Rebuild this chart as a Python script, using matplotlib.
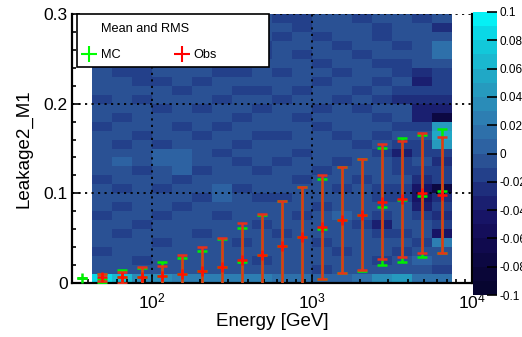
import numpy as np
import matplotlib
matplotlib.use("Agg")
import matplotlib.pyplot as plt
from matplotlib.colors import ListedColormap, BoundaryNorm
from matplotlib.patches import Rectangle
from matplotlib.lines import Line2D
from matplotlib.ticker import FixedLocator, LogLocator, NullFormatter

plt.rcParams["font.family"] = ["Liberation Sans", "DejaVu Sans"]

# log10(E) binning: 20 bins of 0.125 from 10^1.5 to 10^4
LOG_EDGES = np.arange(1.5, 4.0001, 0.125)
Y_EDGES = np.arange(0.0, 0.3001, 0.01)

# heatmap (MC - Obs), in units of 0.01 (level index), rows from y=0 upward,
# columns = energy bins 1..18 (bin 0 and 19 are empty)
LEVELS = [
    [8, 6, 3, 3, 2, 2, 2, 2, 2, 1, 1, 0, 0, 1, 3, 4, 1, 1],
    [-1, -1, -1, -1, -1, -1, -1, -1, -1, -1, -1, -2, -1, -1, -1, -1, -1, -2],
    [-1, -1, -2, -1, -1, -1, -1, -1, -2, -1, -1, -1, -1, -1, -2, -1, 0, -1],
    [-2, -1, -1, -1, -1, -1, -1, -1, -1, -1, -1, -1, -2, -1, -1, -2, -1, -1],
    [-1, -1, -1, -2, -1, -1, -1, -2, -1, -1, -1, -2, -1, -1, -1, -1, -2, 2],
    [-1, -2, -1, -1, -1, -2, -1, -1, -1, -2, -1, -1, -1, -1, -2, -2, -1, -5],
    [-1, -1, -2, -1, -1, -1, -1, -1, -2, -1, -1, -1, -1, -2, -4, -1, -1, -2],
    [-2, -1, -1, -2, -1, -1, -2, -1, -1, -1, -2, -1, 0, -1, -2, -1, -2, -3],
    [-1, -2, -1, -1, -2, -1, -1, -1, -1, -1, -1, -2, -1, -1, -1, -1, -4, -2],
    [-1, -1, -1, -1, -1, -2, 0, -1, -2, -2, -1, -1, -1, -1, -2, -2, -5, -3],
    [-1, -2, -1, -2, -1, -1, 0, -2, -1, -1, -1, -1, -2, -1, -2, -2, -5, -8],
    [-2, -1, -1, -1, -2, -1, -1, -1, -1, -1, -2, -1, -1, -2, -1, -1, -3, -2],
    [-1, -1, -2, -1, 0, -2, -1, -1, -2, -1, -1, -2, -1, -1, -1, -2, -2, -2],
    [-1, 0, -1, 0, 0, -1, -1, -2, -1, -2, -1, -1, -2, -1, -1, -2, -1, -3],
    [-1, -1, -1, 0, 0, -1, -2, -1, -1, -1, -2, -1, -1, -1, -2, -4, -2, -2],
    [-1, -2, -1, -2, -1, -1, -1, -2, -1, -1, -1, -1, -1, -2, -1, -2, -2, 4],
    [-1, -1, -2, -1, -1, -2, -1, -1, -2, -2, -1, -1, -2, -1, -2, -1, -1, 5],
    [-2, -1, -1, -1, -2, -1, -2, -1, -1, -1, -1, -2, -1, -1, -1, -2, -2, 4],
    [-1, -2, -1, -1, -1, -1, -1, -2, -1, -1, -2, -1, -1, -1, -2, -1, -4, -8],
    [-1, -1, -1, -2, -1, -2, -1, -1, -2, -1, -1, -2, -1, -2, -1, -1, -4, -4],
    [-2, -1, -2, -1, -1, -1, -2, -1, -1, -2, -1, -1, -2, -1, -2, -3, -3, -3],
    [-1, -1, -1, -1, -2, -1, -1, -2, -2, -1, -2, -1, -1, -2, -1, -2, -2, -2],
    [-1, -1, -2, -2, -1, -2, -1, -1, -1, -1, -1, -2, -1, -1, -2, -1, -4, -2],
    [-1, -2, -2, -1, -1, -1, -2, -2, -1, -2, -1, -1, -2, -1, -1, -2, -3, -2],
    [-2, -1, -1, -2, -1, -1, -2, -1, -1, -1, -1, -2, -1, -1, -2, -2, -1, -1],
    [-1, -2, -1, -1, -2, -1, -1, -1, -2, -1, -2, -1, -1, -2, -1, -1, -1, 1],
    [-1, -1, -2, -1, -1, -2, -1, -1, -2, -1, -1, -1, -2, -1, -1, -2, -1, 1],
    [-2, -1, -1, -2, -1, -1, -2, -1, -1, -2, -1, -2, -1, -1, -2, -1, -1, -1],
    [-1, -2, -1, -1, -2, -1, -1, -2, -1, -1, -2, -1, -1, -1, -2, -1, -1, -3],
    [-1, -1, -2, -1, -1, -2, -1, -1, -1, -2, -2, -1, -1, -2, -1, -1, -2, -1],
]

# profile: mean and RMS per energy bin (bins 0..18)
MC_MEAN = [0.0052, 0.005, 0.0065, 0.007, 0.0082, 0.010, 0.013, 0.0175, 0.023, 0.031,
           0.041, 0.0517, 0.0602, 0.070, 0.076, 0.085, 0.0926, 0.097, 0.1026]
MC_RMS = [0.0, 0.0047, 0.0085, 0.0095, 0.0148, 0.0184, 0.0228, 0.0315, 0.0385, 0.0448,
          0.050, 0.055, 0.0555, 0.059, 0.0625, 0.065, 0.0688, 0.0685, 0.069]
OBS_MEAN = [np.nan, 0.0063, 0.0063, 0.0071, 0.0082, 0.010, 0.013, 0.0175, 0.026, 0.031,
            0.041, 0.0517, 0.063, 0.070, 0.076, 0.0907, 0.0937, 0.100, 0.0985]
OBS_RMS = [np.nan, 0.0037, 0.006, 0.011, 0.0113, 0.0212, 0.027, 0.0325, 0.041, 0.046,
           0.050, 0.055, 0.058, 0.059, 0.062, 0.064, 0.065, 0.067, 0.0645]

CBAR_TICKS = [-0.1, -0.08, -0.06, -0.04, -0.02, 0, 0.02, 0.04, 0.06, 0.08, 0.1]
CBAR_LABELS = ["-0.1", "-0.08", "-0.06", "-0.04", "-0.02", "0",
               "0.02", "0.04", "0.06", "0.08", "0.1"]

# 20-step palette, -0.1 .. 0.1
PALETTE = ["#070530", "#0a0638", "#0c0842", "#100a4e", "#140e5a", "#171466",
           "#1a1f70", "#1e2e7c", "#23408a", "#2a5194", "#2d62a2", "#2e70aa",
           "#2d7eb2", "#2a8cb8", "#269abe", "#20a8c6", "#1ab8d0", "#12c8da",
           "#0ad8e6", "#05f0f5"]

W, H = 522, 337
fig = plt.figure(figsize=(W / 100, H / 100), dpi=100)


def px_box(x0, y0, x1, y1):
    return [x0 / W, 1 - y1 / H, (x1 - x0) / W, (y1 - y0) / H]


ax = fig.add_axes(px_box(72, 14, 472, 283))
cax = fig.add_axes(px_box(473, 12, 497, 295))

cmap = ListedColormap(PALETTE)
norm = BoundaryNorm(np.linspace(-0.1, 0.1, 21), cmap.N)

xe = 10 ** LOG_EDGES
vals = (np.array(LEVELS, dtype=float) + 0.5) / 100.0
mesh = ax.pcolormesh(xe[1:20], Y_EDGES, vals, cmap=cmap, norm=norm, zorder=1)

xc = 10 ** (LOG_EDGES[:-1] + 0.0625)[:19]
ax.errorbar(xc, MC_MEAN, yerr=MC_RMS, fmt="+", color="#00ee00", ms=7.5, mew=1.8,
            elinewidth=1.8, capsize=3.5, capthick=1.8, zorder=3)
_, caps, _ = ax.errorbar(xc, OBS_MEAN, yerr=OBS_RMS, fmt="+", color="#ff1000",
                         ecolor="#e8301a", ms=7.5, mew=1.8, elinewidth=1.8,
                         capsize=3.5, capthick=1.8, zorder=4)
for c in caps:
    c.set_color("#ff1000")

ax.set_xscale("log")
ax.set_xlim(10 ** 1.5, 1e4)
ax.set_ylim(0, 0.3)
ax.set_yticks([0, 0.1, 0.2, 0.3])
ax.set_yticklabels(["0", "0.1", "0.2", "0.3"])
ax.yaxis.set_minor_locator(FixedLocator(np.arange(0, 0.3001, 0.02)))
ax.xaxis.set_major_locator(FixedLocator([1e2, 1e3, 1e4]))
ax.xaxis.set_minor_locator(LogLocator(base=10, subs=np.arange(2, 10)))
ax.xaxis.set_minor_formatter(NullFormatter())
ax.tick_params(which="both", direction="in", labelsize=12.5, width=1.2)
ax.tick_params(which="major", length=6)
ax.tick_params(which="minor", length=3)
ax.tick_params(axis="x", pad=6)
ax.tick_params(axis="y", pad=3)
ax.grid(True, which="major", color="black", linestyle=(0, (1.2, 2.4)), linewidth=1.3)
for side in ("left", "bottom", "right"):
    ax.spines[side].set_linewidth(1.6)
ax.spines["top"].set_visible(False)

ax.set_xlabel("Energy [GeV]", fontsize=13.5, labelpad=1)
ax.set_ylabel("Leakage2_M1", fontsize=13.5, labelpad=8)

cb = fig.colorbar(mesh, cax=cax, ticks=CBAR_TICKS)
cb.ax.set_yticklabels(CBAR_LABELS)
cb.ax.tick_params(direction="in", length=7, width=1.2, labelsize=8.5, pad=2)
cb.ax.minorticks_off()
cb.outline.set_visible(False)

# legend box drawn by hand (ROOT TLegend look)
tf = fig.transFigure
fig.add_artist(Rectangle((77 / W, 1 - 67 / H), 192 / W, 53 / H, transform=tf,
                         facecolor="white", edgecolor="black", linewidth=1.2, zorder=10))
fig.text(101 / W, 1 - 29 / H, "Mean and RMS", fontsize=9.2, va="center", ha="left", zorder=11)
fig.add_artist(Line2D([89 / W], [1 - 54 / H], marker="+", ms=11, mew=1.5,
                      color="#00ff00", transform=tf, zorder=11))
fig.text(101 / W, 1 - 55 / H, "MC", fontsize=9.2, va="center", ha="left", zorder=11)
fig.add_artist(Line2D([182 / W], [1 - 54 / H], marker="+", ms=11, mew=1.5,
                      color="#ff0000", transform=tf, zorder=11))
fig.text(193 / W, 1 - 55 / H, "Obs", fontsize=9.2, va="center", ha="left", zorder=11)

fig.savefig("out.png", dpi=100)
